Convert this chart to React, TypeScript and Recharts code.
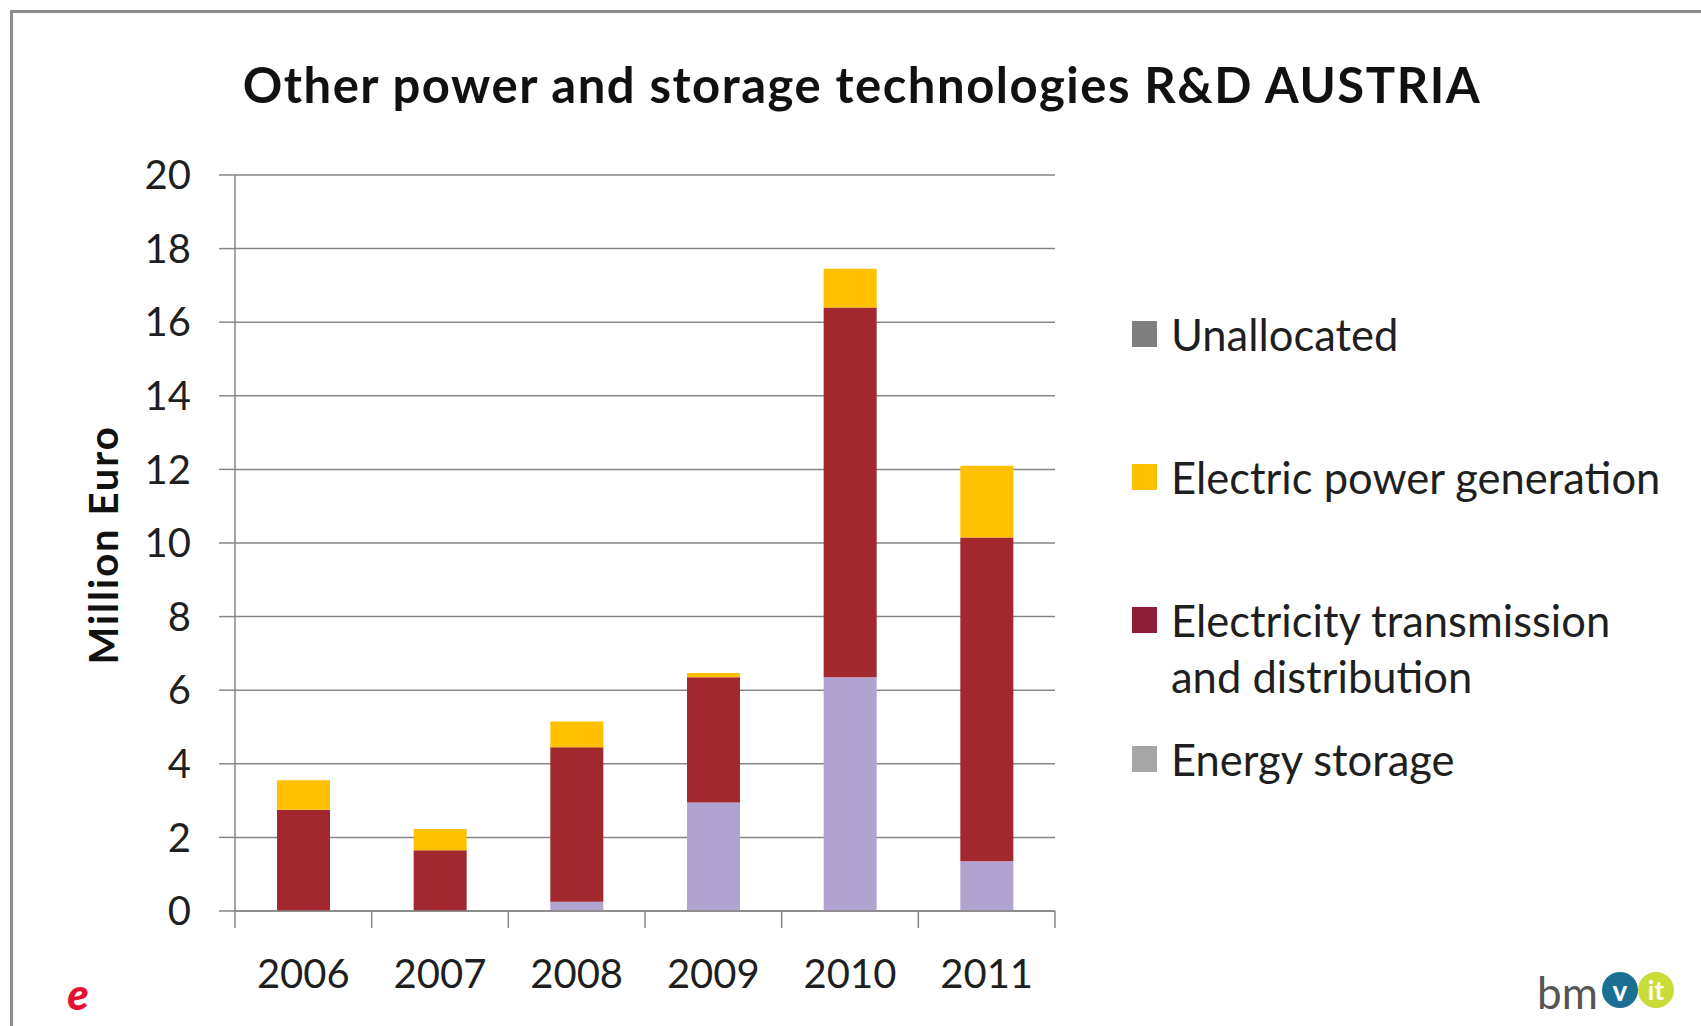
import { BarChart, Bar, XAxis, YAxis, CartesianGrid } from "recharts";

const years = ["2006", "2007", "2008", "2009", "2010", "2011"];
const energyStorage = [0, 0, 0.25, 2.95, 6.35, 1.35];
const transmission = [2.75, 1.65, 4.2, 3.4, 10.05, 8.8];
const powerGeneration = [0.8, 0.58, 0.7, 0.12, 1.05, 1.95];
const unallocated = [0, 0, 0, 0, 0, 0];
const yTicks = [0, 2, 4, 6, 8, 10, 12, 14, 16, 18, 20];

const data = years.map((year, i) => ({
  year,
  storage: energyStorage[i],
  transmission: transmission[i],
  generation: powerGeneration[i],
  unallocated: unallocated[i],
}));

const legendItems = [
  { label: ["Unallocated"], color: "#7f7f7f", y: 334 },
  { label: ["Electric power generation"], color: "#ffc000", y: 477 },
  { label: ["Electricity transmission", "and distribution"], color: "#8e1e35", y: 620 },
  { label: ["Energy storage"], color: "#a6a6a6", y: 759 },
];

const FONT = "Lato, 'Open Sans', sans-serif";
const GRID = "#868686";

function YearTick(props: any) {
  const { x, y, payload, index } = props;
  const half = payload && payload.offset ? payload.offset : 68.5;
  return (
    <g>
      <line x1={x - half} x2={x - half} y1={y} y2={y + 17} stroke={GRID} strokeWidth={1.5} />
      {index === years.length - 1 && (
        <line x1={x + half} x2={x + half} y1={y} y2={y + 17} stroke={GRID} strokeWidth={1.5} />
      )}
      <text
        x={x}
        y={y + 62}
        textAnchor="middle"
        dominantBaseline="central"
        fontFamily={FONT}
        fontSize={40}
        fill="#1f1f1f"
      >
        {payload.value}
      </text>
    </g>
  );
}

export default function App() {
  return (
    <div
      style={{
        position: "absolute",
        left: 0,
        top: 0,
        width: 1701,
        height: 1026,
        overflow: "hidden",
        background: "#ffffff",
      }}
    >
      <div
        style={{
          position: "absolute",
          left: 10,
          top: 10,
          width: 1691,
          height: 1016,
          borderLeft: "3px solid #8c8c8c",
          borderTop: "3px solid #8c8c8c",
          boxSizing: "border-box",
        }}
      />
      <div style={{ position: "absolute", left: 0, top: 0 }}>
        <BarChart
          width={1701}
          height={1026}
          data={data}
          margin={{ top: 175, right: 646, bottom: 0, left: 115 }}
          barSize={53}
        >
          <CartesianGrid vertical={false} stroke={GRID} strokeWidth={1.5} />
          <XAxis
            dataKey="year"
            height={115}
            tickLine={false}
            tickSize={0}
            tickMargin={0}
            axisLine={{ stroke: GRID, strokeWidth: 1.5 }}
            tick={<YearTick />}
            interval={0}
          />
          <YAxis
            width={120}
            domain={[0, 20]}
            ticks={yTicks}
            interval={0}
            tickSize={16}
            tickMargin={28}
            axisLine={{ stroke: GRID, strokeWidth: 1.5 }}
            tickLine={{ stroke: GRID, strokeWidth: 1.5 }}
            tick={{ fontFamily: FONT, fontSize: 40, fill: "#1f1f1f" }}
          />
          <Bar dataKey="storage" stackId="a" fill="#b1a3cf" isAnimationActive={false} />
          <Bar dataKey="transmission" stackId="a" fill="#a0282e" isAnimationActive={false} />
          <Bar dataKey="generation" stackId="a" fill="#ffc000" isAnimationActive={false} />
          <Bar dataKey="unallocated" stackId="a" fill="#7f7f7f" isAnimationActive={false} />
        </BarChart>
      </div>
      <svg
        width={1701}
        height={1026}
        style={{ position: "absolute", left: 0, top: 0, pointerEvents: "none" }}
      >
        <text
          x={862}
          y={84}
          textAnchor="middle"
          dominantBaseline="central"
          fontFamily={FONT}
          fontWeight={700}
          fontSize={49}
          letterSpacing={1.5}
          fill="#111"
        >
          Other power and storage technologies R&amp;D AUSTRIA
        </text>
        <text
          x={103}
          y={545}
          transform="rotate(-90 103 545)"
          textAnchor="middle"
          dominantBaseline="central"
          fontFamily={FONT}
          fontWeight={700}
          fontSize={40}
          letterSpacing={2}
          fill="#111"
        >
          Million Euro
        </text>
        {legendItems.map((item) => (
          <g key={item.label[0]}>
            <rect x={1132} y={item.y - 13} width={25} height={26} fill={item.color} />
            {item.label.map((line, j) => (
              <text
                key={line}
                x={1171}
                y={item.y + j * 56}
                dominantBaseline="central"
                fontFamily={FONT}
                fontSize={43.5}
                fill="#1f1f1f"
              >
                {line}
              </text>
            ))}
          </g>
        ))}
        <text
          x={78}
          y={993}
          textAnchor="middle"
          dominantBaseline="central"
          fontFamily={FONT}
          fontStyle="italic"
          fontWeight={900}
          fontSize={44}
          fill="#e3122f"
        >
          e
        </text>
        <text
          x={1537}
          y={992}
          dominantBaseline="central"
          fontFamily={FONT}
          fontSize={44}
          fill="#555"
        >
          bm
        </text>
        <circle cx={1620} cy={990} r={18} fill="#1b6f93" />
        <text x={1620} y={990} textAnchor="middle" dominantBaseline="central" fontFamily={FONT} fontWeight={700} fontSize={28} fill="#fff">
          v
        </text>
        <circle cx={1656} cy={990} r={18} fill="#c9dc3a" />
        <text x={1656} y={990} textAnchor="middle" dominantBaseline="central" fontFamily={FONT} fontWeight={700} fontSize={26} fill="#fff">
          it
        </text>
      </svg>
    </div>
  );
}
